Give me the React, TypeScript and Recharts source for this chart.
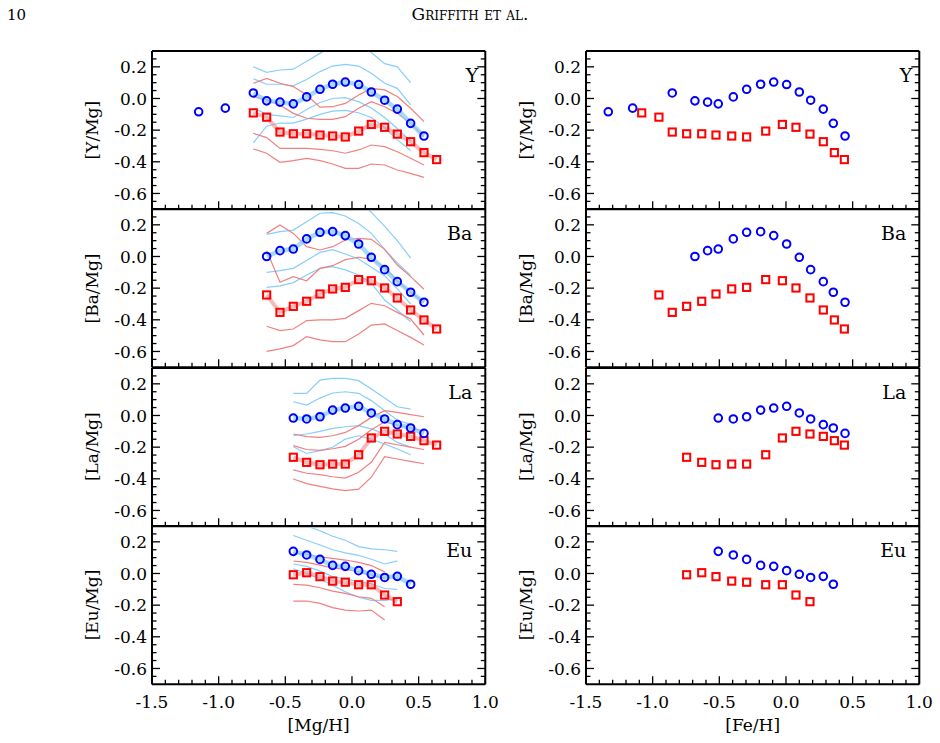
import React from 'react';
import { ComposedChart, Line, Scatter, XAxis, YAxis } from 'recharts';

// ---------- shared bins ----------
// mean [Mg/H] of each bin (left column x)
const MG_BINS = [-1.15, -0.95, -0.74, -0.64, -0.54, -0.44, -0.34, -0.24, -0.145, -0.05, 0.05, 0.145, 0.245, 0.34, 0.44, 0.54, 0.635];
// mean [Fe/H] of the same bins (right column x) for the blue and red populations
const FE_BLUE = [-1.333, -1.15, -0.853, -0.683, -0.588, -0.508, -0.395, -0.295, -0.19, -0.092, 0.005, 0.1, 0.185, 0.28, 0.355, 0.443];
const FE_RED = [null, null, -1.082, -0.953, -0.853, -0.745, -0.632, -0.525, -0.407, -0.295, -0.152, -0.027, 0.075, 0.18, 0.28, 0.363, 0.438];

const X_TICKS = [-1.4, -1.3, -1.2, -1.1, -1.0, -0.9, -0.8, -0.7, -0.6, -0.5, -0.4, -0.3, -0.2, -0.1, 0.0, 0.1, 0.2, 0.3, 0.4, 0.5, 0.6, 0.7, 0.8, 0.9, -1.5, 1.0];
const Y_TICKS = [-0.65, -0.6, -0.55, -0.5, -0.45, -0.4, -0.35, -0.3, -0.25, -0.2, -0.15, -0.1, -0.05, 0.0, 0.05, 0.1, 0.15, 0.2, 0.25];

// ---------- Y ----------
const Y_BLUE = [-0.084, -0.061, 0.035, -0.015, -0.023, -0.034, 0.010, 0.058, 0.090, 0.104, 0.088, 0.041, -0.011, -0.067, -0.157, -0.237];
const Y_RED = [-0.091, -0.118, -0.212, -0.223, -0.223, -0.231, -0.237, -0.243, -0.206, -0.164, -0.182, -0.225, -0.273, -0.342, -0.386];
const Y_BLUE_HI2 = [0.20, 0.165, 0.18, 0.185, 0.235, 0.285, 0.33, 0.35, 0.34, 0.29, 0.22, 0.20, 0.10];
const Y_BLUE_HI1 = [0.125, 0.09, 0.09, 0.08, 0.12, 0.17, 0.205, 0.215, 0.205, 0.16, 0.096, 0.064, -0.04];
const Y_BLUE_LO1 = [-0.06, -0.10, -0.11, -0.12, -0.07, -0.025, 0.0, 0.005, -0.02, -0.06, -0.12, -0.19, -0.27];
const Y_BLUE_LO2 = [-0.28, -0.175, -0.155, -0.155, -0.13, -0.10, -0.08, -0.075, -0.09, -0.12, -0.185, -0.26, -0.33];
const Y_RED_HI2 = [0.096, 0.127, 0.096, 0.075, 0.022, -0.055, -0.052, -0.031, 0.022, 0.064, 0.054, 0.012, -0.062, -0.146];
const Y_RED_HI1 = [0.012, -0.009, -0.041, -0.094, -0.125, -0.132, -0.132, -0.115, -0.062, -0.02, -0.052, -0.094, -0.157, -0.241];
const Y_RED_LO1 = [-0.22, -0.247, -0.315, -0.315, -0.315, -0.321, -0.33, -0.346, -0.325, -0.294, -0.304, -0.336, -0.378, -0.42];
const Y_RED_LO2 = [-0.319, -0.346, -0.403, -0.393, -0.378, -0.393, -0.414, -0.441, -0.441, -0.414, -0.42, -0.452, -0.473, -0.498];

// ---------- Ba ----------
const BA_BLUE = [0.0, 0.037, 0.047, 0.111, 0.153, 0.157, 0.132, 0.079, -0.005, -0.083, -0.159, -0.226, -0.289];
const BA_RED = [-0.243, -0.353, -0.315, -0.283, -0.237, -0.205, -0.195, -0.146, -0.153, -0.199, -0.262, -0.338, -0.401, -0.458];
const BA_BLUE_HI2 = [0.30, 0.31, 0.34, 0.37, 0.40, 0.40, 0.38, 0.33, 0.28, 0.19, 0.10, -0.01];
const BA_BLUE_HI1 = [0.14, 0.157, 0.167, 0.22, 0.273, 0.277, 0.256, 0.209, 0.146, 0.045, -0.04, -0.12];
const BA_BLUE_LO1 = [-0.10, -0.089, -0.075, -0.026, 0.026, 0.043, 0.016, -0.016, -0.068, -0.121, -0.205, -0.30];
const BA_BLUE_LO2 = [-0.195, -0.186, -0.165, -0.117, -0.075, -0.064, -0.085, -0.117, -0.169, -0.275, -0.338, -0.412];
const BA_RED_HI2 = [0.146, 0.199, 0.146, 0.062, 0.041, 0.062, 0.104, 0.115, 0.108, 0.045, -0.054, -0.127, -0.207];
const BA_RED_HI1 = [0.037, -0.163, -0.127, -0.153, -0.075, -0.058, -0.02, -0.005, -0.016, -0.068, -0.153, -0.226, -0.289];
const BA_RED_LO1 = [-0.441, -0.468, -0.458, -0.405, -0.401, -0.401, -0.391, -0.342, -0.296, -0.311, -0.353, -0.395, -0.496];
const BA_RED_LO2 = [-0.599, -0.584, -0.563, -0.506, -0.527, -0.538, -0.538, -0.489, -0.433, -0.426, -0.468, -0.511, -0.559];

// ---------- La ----------
const LA_BLUE = [-0.016, -0.022, -0.008, 0.034, 0.047, 0.058, 0.016, -0.022, -0.058, -0.079, -0.113];
const LA_RED = [-0.264, -0.296, -0.311, -0.307, -0.307, -0.248, -0.142, -0.10, -0.117, -0.132, -0.159, -0.187];
const LA_BLUE_HI2 = [0.14, 0.14, 0.224, 0.234, 0.234, 0.22, 0.167, 0.11, 0.055, 0.04];
const LA_BLUE_HI1 = [0.087, 0.066, 0.11, 0.142, 0.15, 0.14, 0.094, 0.03, -0.029, -0.058];
const LA_BLUE_LO1 = [-0.128, -0.117, -0.10, -0.081, -0.071, -0.064, -0.085, -0.117, -0.17, -0.20];
const LA_BLUE_LO2 = [-0.197, -0.24, -0.222, -0.201, -0.149, -0.128, -0.149, -0.18, -0.212, -0.248];
const LA_RED_HI2 = [-0.117, -0.134, -0.138, -0.128, -0.107, -0.064, -0.012, 0.03, 0.02, 0.005, -0.008];
const LA_RED_HI1 = [-0.19, -0.215, -0.22, -0.21, -0.195, -0.15, -0.09, -0.04, -0.06, -0.08, -0.10];
const LA_RED_LO1 = [-0.344, -0.365, -0.374, -0.387, -0.395, -0.359, -0.296, -0.17, -0.185, -0.20, -0.215];
const LA_RED_LO2 = [-0.401, -0.43, -0.448, -0.464, -0.475, -0.465, -0.39, -0.26, -0.275, -0.29, -0.305];

// ---------- Eu ----------
const EU_BLUE = [0.14, 0.117, 0.089, 0.051, 0.045, 0.018, -0.005, -0.025, -0.018, -0.068];
const EU_RED = [-0.008, 0.005, -0.02, -0.048, -0.055, -0.071, -0.071, -0.136, -0.178];
const EU_BLUE_HI2 = [0.33, 0.30, 0.27, 0.235, 0.21, 0.17, 0.155, 0.15, 0.14];
const EU_BLUE_HI1 = [0.24, 0.21, 0.18, 0.15, 0.13, 0.115, 0.09, 0.06, 0.08];
const EU_BLUE_LO1 = [0.06, 0.045, 0.015, -0.02, -0.035, -0.05, -0.065, -0.095, -0.10];
const EU_BLUE_LO2 = [0.03, 0.0, -0.035, -0.075, -0.115, -0.15, -0.17, -0.17, -0.16];
const EU_RED_HI2 = [0.13, 0.12, 0.105, 0.095, 0.085, 0.07, 0.05, 0.01];
const EU_RED_HI1 = [0.079, 0.07, 0.053, 0.036, 0.026, 0.011, -0.01, -0.031];
const EU_RED_LO1 = [-0.069, -0.073, -0.09, -0.111, -0.126, -0.147, -0.157, -0.21];
const EU_RED_LO2 = [-0.174, -0.174, -0.189, -0.216, -0.231, -0.237, -0.231, -0.294];

const PANELS = [
  { el: 'Y', title: '[Y/Mg]', blueStart: 0, blue: Y_BLUE, redStart: 2, red: Y_RED, bLineStart: 2, bLines: [Y_BLUE_HI2, Y_BLUE_HI1, Y_BLUE_LO1, Y_BLUE_LO2], rLineStart: 2, rLines: [Y_RED_HI2, Y_RED_HI1, Y_RED_LO1, Y_RED_LO2] },
  { el: 'Ba', title: '[Ba/Mg]', blueStart: 3, blue: BA_BLUE, redStart: 3, red: BA_RED, bLineStart: 3, bLines: [BA_BLUE_HI2, BA_BLUE_HI1, BA_BLUE_LO1, BA_BLUE_LO2], rLineStart: 3, rLines: [BA_RED_HI2, BA_RED_HI1, BA_RED_LO1, BA_RED_LO2] },
  { el: 'La', title: '[La/Mg]', blueStart: 5, blue: LA_BLUE, redStart: 5, red: LA_RED, bLineStart: 5, bLines: [LA_BLUE_HI2, LA_BLUE_HI1, LA_BLUE_LO1, LA_BLUE_LO2], rLineStart: 5, rLines: [LA_RED_HI2, LA_RED_HI1, LA_RED_LO1, LA_RED_LO2] },
  { el: 'Eu', title: '[Eu/Mg]', blueStart: 5, blue: EU_BLUE, redStart: 5, red: EU_RED, bLineStart: 5, bLines: [EU_BLUE_HI2, EU_BLUE_HI1, EU_BLUE_LO1, EU_BLUE_LO2], rLineStart: 5, rLines: [EU_RED_HI2, EU_RED_HI1, EU_RED_LO1, EU_RED_LO2] },
];

// ---------- layout ----------
const PW = 333.3;
const PH = 158.3;
const TOP0 = 51;
const LEFTS = [152, 586];
const PADX = 80;
const PADY = 40;
const FONT = 'DejaVu Serif';
const FS = 17;

function series(xs: (number | null)[], start: number, ys: number[]) {
  return ys.map((y, i) => ({ x: xs[start + i] as number, y }));
}

const isMajorX = (v: number) => Math.abs(v * 2 - Math.round(v * 2)) < 1e-6;
const isMajorY = (v: number) => Math.abs(v * 5 - Math.round(v * 5)) < 1e-6;
const fmt = (v: number) => (Math.abs(v) < 1e-9 ? '0.0' : v.toFixed(1));

function XTick(props: any) {
  const { x, y, payload, dir, showLabel } = props;
  const v = payload.value;
  const major = isMajorX(v);
  const len = major ? 8 : 4.5;
  return (
    <g>
      <line x1={x} x2={x} y1={y} y2={y + dir * len} stroke="#000" strokeWidth={1.3} />
      {showLabel && major ? (
        <text x={x} y={y + 24} textAnchor="middle" fontFamily={FONT} fontSize={FS} fill="#000">
          {fmt(v)}
        </text>
      ) : null}
    </g>
  );
}

function YTick(props: any) {
  const { x, y, payload, dir, showLabel } = props;
  const v = payload.value;
  const major = isMajorY(v);
  const len = major ? 8 : 4.5;
  return (
    <g>
      <line x1={x} x2={x + dir * len} y1={y} y2={y} stroke="#000" strokeWidth={1.3} />
      {showLabel && major ? (
        <text x={x - 5} y={y} dy="0.36em" textAnchor="end" fontFamily={FONT} fontSize={FS} fill="#000">
          {fmt(v)}
        </text>
      ) : null}
    </g>
  );
}

const Circle = (props: any) => {
  const { cx, cy } = props;
  if (cx == null || cy == null) return <g />;
  return <circle cx={cx} cy={cy} r={3.8} fill="none" stroke="#0000ff" strokeWidth={2} />;
};
const Square = (props: any) => {
  const { cx, cy } = props;
  if (cx == null || cy == null) return <g />;
  return <rect x={cx - 3.6} y={cy - 3.6} width={7.2} height={7.2} fill="none" stroke="#ff0000" strokeWidth={2} />;
};

const AXIS_LINE = { stroke: '#000', strokeWidth: 2 };

function Panel({ p, row, col }: { p: any; row: number; col: number }) {
  const left = LEFTS[col];
  const top = TOP0 + row * PH;
  const last = row === 3;
  const blueXs = col === 0 ? MG_BINS : FE_BLUE;
  const redXs = col === 0 ? MG_BINS : FE_RED;
  const blue = series(blueXs, p.blueStart, p.blue);
  const red = series(redXs, p.redStart, p.red);
  const blueMed = series(MG_BINS, p.bLineStart, p.blue.slice(p.bLineStart - p.blueStart));
  return (
    <div style={{ position: 'absolute', left: left - PADX, top: top - PADY }}>
      <ComposedChart
        width={PW + 2 * PADX}
        height={PH + 2 * PADY}
        margin={{ top: PADY - 1, right: PADX - 1, bottom: PADY - 1, left: PADX - 1 }}
      >
        <XAxis
          xAxisId="b"
          dataKey="x"
          type="number"
          domain={[-1.5, 1]}
          allowDataOverflow
          ticks={X_TICKS}
          interval={0}
          height={1}
          tickSize={0}
          tickMargin={0}
          tickLine={false}
          axisLine={AXIS_LINE}
          tick={(t: any) => <XTick {...t} dir={-1} showLabel={last} />}
        />
        <XAxis
          xAxisId="t"
          orientation="top"
          type="number"
          domain={[-1.5, 1]}
          allowDataOverflow
          ticks={X_TICKS}
          interval={0}
          height={1}
          tickSize={0}
          tickMargin={0}
          tickLine={false}
          axisLine={AXIS_LINE}
          tick={(t: any) => <XTick {...t} dir={1} showLabel={false} />}
        />
        <YAxis
          yAxisId="l"
          type="number"
          domain={[-0.7, 0.3]}
          allowDataOverflow
          ticks={Y_TICKS}
          interval={0}
          width={1}
          tickSize={0}
          tickMargin={0}
          tickLine={false}
          axisLine={AXIS_LINE}
          tick={(t: any) => <YTick {...t} dir={1} showLabel={true} />}
        />
        <YAxis
          yAxisId="r"
          orientation="right"
          type="number"
          domain={[-0.7, 0.3]}
          allowDataOverflow
          ticks={Y_TICKS}
          interval={0}
          width={1}
          tickSize={0}
          tickMargin={0}
          tickLine={false}
          axisLine={AXIS_LINE}
          tick={(t: any) => <YTick {...t} dir={-1} showLabel={false} />}
        />
        {col === 0 &&
          p.bLines.map((ys: number[], i: number) => (
            <Line
              key={'bl' + i}
              xAxisId="b"
              yAxisId="l"
              data={series(MG_BINS, p.bLineStart, ys)}
              dataKey="y"
              type="linear"
              stroke="#87cefa"
              strokeWidth={1.2}
              dot={false}
              activeDot={false}
              isAnimationActive={false}
            />
          ))}
        {col === 0 &&
          p.rLines.map((ys: number[], i: number) => (
            <Line
              key={'rl' + i}
              xAxisId="b"
              yAxisId="l"
              data={series(MG_BINS, p.rLineStart, ys)}
              dataKey="y"
              type="linear"
              stroke="#f08080"
              strokeWidth={1.2}
              dot={false}
              activeDot={false}
              isAnimationActive={false}
            />
          ))}
        {col === 0 && (
          <Line
            xAxisId="b"
            yAxisId="l"
            data={blueMed}
            dataKey="y"
            type="linear"
            stroke="#87cefa"
            strokeOpacity={0.75}
            strokeWidth={4.5}
            dot={false}
            activeDot={false}
            isAnimationActive={false}
          />
        )}
        {col === 0 && (
          <Line
            xAxisId="b"
            yAxisId="l"
            data={red}
            dataKey="y"
            type="linear"
            stroke="#f08080"
            strokeOpacity={0.55}
            strokeWidth={4}
            dot={false}
            activeDot={false}
            isAnimationActive={false}
          />
        )}
        <Scatter xAxisId="b" yAxisId="l" data={red} dataKey="y" shape={Square} isAnimationActive={false} />
        <Scatter xAxisId="b" yAxisId="l" data={blue} dataKey="y" shape={Circle} isAnimationActive={false} />
      </ComposedChart>
    </div>
  );
}

export default function App() {
  const textStyle = { fontFamily: FONT, fill: '#000' } as const;
  return (
    <div style={{ position: 'absolute', left: 0, top: 0, width: 940, height: 743, background: '#fff', overflow: 'hidden' }}>
      {PANELS.map((p, row) => (
        <React.Fragment key={p.el}>
          <Panel p={p} row={row} col={0} />
          <Panel p={p} row={row} col={1} />
        </React.Fragment>
      ))}
      <svg width={940} height={743} style={{ position: 'absolute', left: 0, top: 0, pointerEvents: 'none' }}>
        <text x={7} y={20} fontSize={15} {...textStyle}>10</text>
        <text x={470} y={20} fontSize={17} textAnchor="middle" style={{ fontVariant: 'small-caps' }} {...textStyle}>
          Griffith et al.
        </text>
        {PANELS.map((p, row) => {
          const top = TOP0 + row * PH;
          const cy = top + PH / 2;
          return (
            <g key={'t' + p.el}>
              {LEFTS.map((l, c) => (
                <g key={c}>
                  <text
                    transform={`translate(${l - 54},${cy}) rotate(-90)`}
                    textAnchor="middle"
                    fontSize={FS}
                    {...textStyle}
                  >
                    {p.title}
                  </text>
                  <text
                    x={l + PW - (p.el === 'Y' ? 7 : 13)}
                    y={top + 31}
                    textAnchor="end"
                    fontSize={19}
                    {...textStyle}
                  >
                    {p.el}
                  </text>
                </g>
              ))}
            </g>
          );
        })}
        <text x={LEFTS[0] + PW / 2} y={731} textAnchor="middle" fontSize={FS} {...textStyle}>[Mg/H]</text>
        <text x={LEFTS[1] + PW / 2} y={731} textAnchor="middle" fontSize={FS} {...textStyle}>[Fe/H]</text>
      </svg>
    </div>
  );
}
